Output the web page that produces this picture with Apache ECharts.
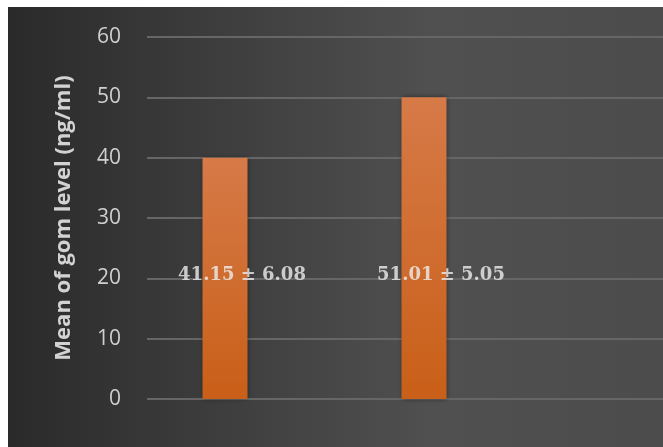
<!DOCTYPE html>
<html>
<head>
<meta charset="utf-8">
<script src="https://cdn.jsdelivr.net/npm/echarts@6/dist/echarts.min.js"></script>
<style>
html,body{margin:0;padding:0;background:#fff;}
#c{position:absolute;left:8px;top:7px;width:655px;height:440px;}
</style>
</head>
<body>
<div id="c"></div>
<script>
var categories = ['Group 1', 'Group 2', ''];
var barValues = [40, 50, null];
var labelTexts = ['41.15 \u00b1 6.08', '51.01 \u00b1 5.05'];
var labelLevel = [20.5, 20.5];
var yTicks = [0, 10, 20, 30, 40, 50, 60];
var yTitle = 'Mean of gom level (ng/ml)';

var chart = echarts.init(document.getElementById('c'));
chart.setOption({
  animation: false,
  backgroundColor: {
    type: 'linear', x: 0, y: 0, x2: 1, y2: 0,
    colorStops: [
      {offset: 0, color: '#2a2a2a'},
      {offset: 0.35, color: '#3f3f3f'},
      {offset: 0.65, color: '#505050'},
      {offset: 1, color: '#4c4c4c'}
    ]
  },
  grid: [
    {left: 139, right: 0, top: 30, bottom: 48, outerBoundsMode: 'none', containLabel: false},
    {left: 117.5, width: 597, top: 30, bottom: 48, outerBoundsMode: 'none', containLabel: false}
  ],
  xAxis: [
    {type: 'category', gridIndex: 0, data: categories, show: false},
    {type: 'category', gridIndex: 1, data: categories, show: false}
  ],
  yAxis: [
    {
      type: 'value', gridIndex: 0, min: yTicks[0], max: yTicks[yTicks.length - 1], interval: 10,
      axisLine: {show: false}, axisTick: {show: false},
      axisLabel: {color: '#cfcfcf', fontFamily: 'Open Sans', fontSize: 21, margin: 26},
      splitLine: {lineStyle: {color: '#666666', width: 2}},
      name: yTitle, nameLocation: 'middle', nameGap: 72, nameRotate: 90, nameMoveOverlap: false,
      nameTextStyle: {color: '#d2d2d2', fontFamily: 'Open Sans', fontWeight: 'bold', fontSize: 22}
    },
    {type: 'value', gridIndex: 1, min: yTicks[0], max: yTicks[yTicks.length - 1], interval: 10, show: false, splitLine: {show: false}}
  ],
  series: [
    {
      type: 'bar', xAxisIndex: 1, yAxisIndex: 1, data: barValues, barWidth: 45,
      itemStyle: {
        color: {type: 'linear', x: 0, y: 0, x2: 0, y2: 1, colorStops: [
          {offset: 0, color: '#d67a48'}, {offset: 1, color: '#c95f18'}]},
        shadowBlur: 5, shadowColor: 'rgba(0,0,0,0.45)'
      }
    },
    {
      type: 'scatter', xAxisIndex: 1, yAxisIndex: 1, symbolSize: 0,
      data: labelLevel,
      label: {
        show: true, position: 'inside', offset: [17, 0],
        formatter: function (p) { return labelTexts[p.dataIndex]; },
        color: '#eeeeee', fontFamily: 'DejaVu Serif', fontWeight: 'bold', fontSize: 18
      }
    }
  ]
});
</script>
</body>
</html>
